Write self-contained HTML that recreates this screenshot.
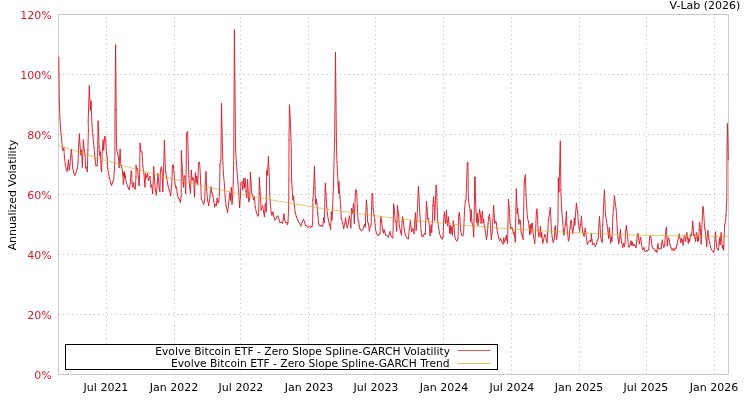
<!DOCTYPE html><html><head><meta charset="utf-8"><title>V-Lab</title><style>html,body{margin:0;padding:0;background:#fff}svg{display:block}text{font-family:"DejaVu Sans","Liberation Sans",sans-serif;font-size:11px}.lg text{font-size:10.72px}</style></head><body>
<svg width="750" height="400" viewBox="0 0 750 400">
<rect width="750" height="400" fill="#fff"/>
<rect x="58.5" y="14.5" width="670.0" height="360.0" fill="none" stroke="#cdcdcd" stroke-width="1"/>
<g stroke="#b8b8b8" stroke-width="1" stroke-dasharray="1 3.4" fill="none">
<path d="M58.5 374.5H728.5"/>
<path d="M58.5 314.5H728.5"/>
<path d="M58.5 254.5H728.5"/>
<path d="M58.5 194.5H728.5"/>
<path d="M58.5 134.5H728.5"/>
<path d="M58.5 74.5H728.5"/>
<path d="M58.5 14.5H728.5"/>
<path d="M106.5 374.5V14.5"/>
<path d="M174.5 374.5V14.5"/>
<path d="M240.5 374.5V14.5"/>
<path d="M308.5 374.5V14.5"/>
<path d="M375.5 374.5V14.5"/>
<path d="M443.5 374.5V14.5"/>
<path d="M511.5 374.5V14.5"/>
<path d="M579.5 374.5V14.5"/>
<path d="M646.5 374.5V14.5"/>
<path d="M714.5 374.5V14.5"/>
</g>
<g fill="#d71a28" text-anchor="end">
<text x="51.6" y="378.5">0%</text>
<text x="51.6" y="318.5">20%</text>
<text x="51.6" y="258.5">40%</text>
<text x="51.6" y="198.5">60%</text>
<text x="51.6" y="138.5">80%</text>
<text x="51.6" y="78.5">100%</text>
<text x="51.6" y="18.5">120%</text>
</g>
<g fill="#000" text-anchor="middle">
<text x="106" y="391">Jul 2021</text>
<text x="174" y="391">Jan 2022</text>
<text x="241" y="391">Jul 2022</text>
<text x="309" y="391">Jan 2023</text>
<text x="376" y="391">Jul 2023</text>
<text x="444" y="391">Jan 2024</text>
<text x="512" y="391">Jul 2024</text>
<text x="579" y="391">Jan 2025</text>
<text x="646" y="391">Jul 2025</text>
<text x="714" y="391">Jan 2026</text>
</g>
<text x="740.4" y="9.2" text-anchor="end" fill="#000">V-Lab (2026)</text>
<text transform="translate(16,195) rotate(-90)" text-anchor="middle" fill="#000" style="font-size:10.9px">Annualized Volatility</text>
<g fill="none" stroke="#d71a28" stroke-opacity="0.9" stroke-width="1" stroke-linecap="round">
<path d="M58.8 57.0L59.3 100.0"/><path d="M59.3 100.0L60.0 120.0"/><path d="M60.0 120.0L60.7 130.0"/><path d="M60.7 130.0L61.6 139.3"/><path d="M61.6 139.3L62.7 150.0"/><path d="M62.7 150.0L63.3 150.0"/><path d="M63.3 150.0L63.9 148.0"/><path d="M63.9 148.0L64.4 156.7"/><path d="M64.4 156.7L65.3 164.7"/><path d="M65.3 164.7L66.3 169.3"/><path d="M66.3 169.3L67.1 171.3"/><path d="M67.1 171.3L67.7 167.3"/><path d="M67.7 167.3L68.4 160.0"/><path d="M68.4 160.0L69.2 170.0"/><path d="M69.2 170.0L70.0 164.7"/><path d="M70.0 164.7L71.3 149.3"/><path d="M71.3 149.3L72.0 156.7"/><path d="M72.0 156.7L72.7 168.0"/><path d="M72.7 168.0L73.7 172.7"/><path d="M73.7 172.7L74.8 175.3"/><path d="M74.8 175.3L76.0 172.7"/><path d="M76.0 172.7L77.3 168.7"/><path d="M77.3 168.7L78.0 163.3"/><path d="M78.0 163.3L78.7 146.0"/><path d="M78.7 146.0L79.3 134.0"/><path d="M79.3 134.0L79.9 143.3"/><path d="M79.9 143.3L80.7 154.7"/><path d="M80.7 154.7L81.5 150.0"/><path d="M81.5 150.0L82.4 167.3"/><path d="M82.4 167.3L83.3 140.0"/><path d="M83.3 140.0L84.3 150.0"/><path d="M84.3 150.0L85.1 155.3"/><path d="M85.1 155.3L85.7 168.0"/><path d="M85.7 168.0L86.5 167.3"/><path d="M86.5 167.3L87.3 171.6"/><path d="M87.3 171.6L87.9 150.0"/><path d="M87.9 150.0L88.4 130.0"/><path d="M88.4 130.0L88.2 121.0"/><path d="M88.2 121.0L89.3 85.7"/><path d="M89.3 85.7L90.3 110.0"/><path d="M90.3 110.0L91.1 101.0"/><path d="M91.1 101.0L92.0 125.0"/><path d="M92.0 125.0L92.4 130.0"/><path d="M92.4 130.0L92.9 135.3"/><path d="M92.9 135.3L94.0 147.3"/><path d="M94.0 147.3L95.1 158.7"/><path d="M95.1 158.7L95.9 165.7"/><path d="M95.9 165.7L97.3 165.7"/><path d="M97.3 165.7L97.7 147.3"/><path d="M97.7 147.3L98.1 121.0"/><path d="M98.1 121.0L98.5 130.0"/><path d="M98.5 130.0L99.1 146.0"/><path d="M99.1 146.0L99.5 155.3"/><path d="M99.5 155.3L100.3 152.0"/><path d="M100.3 152.0L101.1 168.7"/><path d="M101.1 168.7L101.6 171.6"/><path d="M101.6 171.6L102.3 150.0"/><path d="M102.3 150.0L103.1 140.0"/><path d="M103.1 140.0L103.7 150.0"/><path d="M103.7 150.0L104.7 136.4"/><path d="M104.7 136.4L105.6 138.0"/><path d="M105.6 138.0L106.4 152.7"/><path d="M106.4 152.7L107.1 156.7"/><path d="M107.1 156.7L107.7 168.7"/><path d="M107.7 168.7L108.7 174.0"/><path d="M108.7 174.0L109.3 177.7"/><path d="M109.3 177.7L110.7 183.0"/><path d="M110.7 183.0L111.6 185.4"/><path d="M111.6 185.4L112.7 181.7"/><path d="M112.7 181.7L113.7 180.3"/><path d="M113.7 180.3L114.3 171.0"/><path d="M114.3 171.0L114.8 163.0"/><path d="M114.8 163.0L115.0 110.0"/><path d="M115.0 110.0L115.6 45.0"/><path d="M115.6 45.0L116.2 110.0"/><path d="M116.2 110.0L116.3 130.0"/><path d="M116.3 130.0L116.7 150.0"/><path d="M116.7 150.0L117.6 154.0"/><path d="M117.6 154.0L118.4 156.7"/><path d="M118.4 156.7L119.1 167.6"/><path d="M119.1 167.6L120.1 149.3"/><path d="M120.1 149.3L120.9 165.3"/><path d="M120.9 165.3L121.7 167.3"/><path d="M121.7 167.3L122.5 171.3"/><path d="M122.5 171.3L123.6 176.0"/><path d="M123.6 176.0L124.3 172.0"/><path d="M124.3 172.0L125.1 178.0"/><path d="M125.1 178.0L122.7 172.3"/><path d="M122.7 172.3L123.3 184.3"/><path d="M123.3 184.3L124.7 173.7"/><path d="M124.7 173.7L125.3 176.3"/><path d="M125.3 176.3L126.3 183.0"/><path d="M126.3 183.0L128.0 187.0"/><path d="M128.0 187.0L129.3 189.7"/><path d="M129.3 189.7L130.3 183.0"/><path d="M130.3 183.0L131.1 171.0"/><path d="M131.1 171.0L131.6 172.3"/><path d="M131.6 172.3L132.1 183.0"/><path d="M132.1 183.0L132.9 187.0"/><path d="M132.9 187.0L133.7 183.0"/><path d="M133.7 183.0L134.3 188.3"/><path d="M134.3 188.3L135.3 189.0"/><path d="M135.3 189.0L136.0 176.3"/><path d="M136.0 176.3L136.0 165.3"/><path d="M136.0 165.3L136.7 170.0"/><path d="M136.7 170.0L137.5 168.7"/><path d="M137.5 168.7L138.4 178.0"/><path d="M138.4 178.0L139.1 185.7"/><path d="M139.1 185.7L139.6 176.3"/><path d="M139.6 176.3L140.0 143.3"/><path d="M140.0 143.3L140.9 151.3"/><path d="M140.9 151.3L142.0 152.0"/><path d="M142.0 152.0L142.8 166.0"/><path d="M142.8 166.0L144.0 174.0"/><path d="M144.0 174.0L144.9 187.0"/><path d="M144.9 187.0L145.7 173.7"/><path d="M145.7 173.7L146.5 177.7"/><path d="M146.5 177.7L147.6 173.7"/><path d="M147.6 173.7L148.4 180.3"/><path d="M148.4 180.3L149.3 179.0"/><path d="M149.3 179.0L150.0 176.3"/><path d="M150.0 176.3L150.9 187.0"/><path d="M150.9 187.0L151.7 185.0"/><path d="M151.7 185.0L152.7 193.7"/><path d="M152.7 193.7L153.2 183.0"/><path d="M153.2 183.0L153.7 166.7"/><path d="M153.7 166.7L154.5 179.0"/><path d="M154.5 179.0L155.3 189.7"/><path d="M155.3 189.7L156.4 195.0"/><path d="M156.4 195.0L157.3 183.0"/><path d="M157.3 183.0L158.0 173.7"/><path d="M158.0 173.7L159.1 187.7"/><path d="M159.1 187.7L159.9 191.7"/><path d="M159.9 191.7L160.4 171.0"/><path d="M160.4 171.0L161.3 167.0"/><path d="M161.3 167.0L162.0 171.0"/><path d="M162.0 171.0L162.8 191.7"/><path d="M162.8 191.7L163.6 169.7"/><path d="M163.6 169.7L164.4 140.7"/><path d="M164.4 140.7L165.3 166.3"/><path d="M165.3 166.3L165.7 172.3"/><path d="M165.7 172.3L166.7 177.7"/><path d="M166.7 177.7L168.0 185.7"/><path d="M168.0 185.7L169.3 189.7"/><path d="M169.3 189.7L170.7 195.7"/><path d="M170.7 195.7L171.7 185.7"/><path d="M171.7 185.7L172.4 165.7"/><path d="M172.4 165.7L173.3 165.0"/><path d="M173.3 165.0L174.0 172.3"/><path d="M174.0 172.3L174.9 183.0"/><path d="M174.9 183.0L175.6 187.7"/><path d="M175.6 187.7L176.4 187.0"/><path d="M176.4 187.0L177.3 194.3"/><path d="M177.3 194.3L178.3 198.3"/><path d="M178.3 198.3L179.3 199.0"/><path d="M179.3 199.0L180.4 202.3"/><path d="M180.4 202.3L181.2 196.3"/><path d="M181.2 196.3L181.3 151.0"/><path d="M181.3 151.0L182.5 171.0"/><path d="M182.5 171.0L183.1 183.0"/><path d="M183.1 183.0L183.6 187.0"/><path d="M183.6 187.0L184.1 175.7"/><path d="M184.1 175.7L184.9 176.3"/><path d="M184.9 176.3L185.7 193.7"/><path d="M185.7 193.7L186.3 163.0"/><path d="M186.3 163.0L186.4 133.5"/><path d="M186.4 133.5L187.6 131.8"/><path d="M187.6 131.8L188.4 163.0"/><path d="M188.4 163.0L188.9 176.3"/><path d="M188.9 176.3L189.7 187.7"/><path d="M189.7 187.7L190.5 193.0"/><path d="M190.5 193.0L191.3 170.3"/><path d="M191.3 170.3L192.1 180.3"/><path d="M192.1 180.3L192.9 177.7"/><path d="M192.9 177.7L193.7 179.0"/><path d="M193.7 179.0L194.5 197.0"/><path d="M194.5 197.0L195.3 173.0"/><path d="M195.3 173.0L196.1 183.0"/><path d="M196.1 183.0L196.9 176.3"/><path d="M196.9 176.3L197.7 184.3"/><path d="M197.7 184.3L198.5 163.0"/><path d="M198.5 163.0L199.6 162.3"/><path d="M199.6 162.3L200.4 176.3"/><path d="M200.4 176.3L201.3 199.0"/><path d="M201.3 199.0L202.7 201.7"/><path d="M202.7 201.7L203.7 204.3"/><path d="M203.7 204.3L204.7 200.3"/><path d="M204.7 200.3L205.3 183.0"/><path d="M205.3 183.0L206.0 171.7"/><path d="M206.0 171.7L206.7 189.7"/><path d="M206.7 189.7L207.6 200.3"/><path d="M207.6 200.3L208.7 205.7"/><path d="M208.7 205.7L210.0 196.3"/><path d="M210.0 196.3L211.1 187.0"/><path d="M211.1 187.0L211.9 193.0"/><path d="M211.9 193.0L212.7 195.0"/><path d="M212.7 195.0L213.7 201.0"/><path d="M213.7 201.0L214.7 207.0"/><path d="M214.7 207.0L215.6 204.3"/><path d="M215.6 204.3L216.4 205.7"/><path d="M216.4 205.7L217.1 198.3"/><path d="M217.1 198.3L218.0 203.0"/><path d="M218.0 203.0L218.8 201.7"/><path d="M218.8 201.7L219.6 189.7"/><path d="M219.6 189.7L220.0 165.7"/><path d="M220.0 165.7L219.8 165.0"/><path d="M219.8 165.0L220.9 160.0"/><path d="M220.9 160.0L221.5 103.5"/><path d="M221.5 103.5L222.2 138.0"/><path d="M222.2 138.0L222.9 163.0"/><path d="M222.9 163.0L223.3 172.3"/><path d="M223.3 172.3L224.4 184.3"/><path d="M224.4 184.3L225.1 196.3"/><path d="M225.1 196.3L226.0 205.7"/><path d="M226.0 205.7L227.6 212.3"/><path d="M227.6 212.3L228.7 203.0"/><path d="M228.7 203.0L229.7 193.0"/><path d="M229.7 193.0L230.4 200.3"/><path d="M230.4 200.3L231.3 187.7"/><path d="M231.3 187.7L232.0 204.3"/><path d="M232.0 204.3L232.7 196.3"/><path d="M232.7 196.3L233.2 183.0"/><path d="M233.2 183.0L233.7 163.0"/><path d="M233.7 163.0L234.4 30.0"/><path d="M234.4 30.0L235.6 150.0"/><path d="M235.6 150.0L236.4 163.0"/><path d="M236.4 163.0L236.9 169.7"/><path d="M236.9 169.7L238.0 183.0"/><path d="M238.0 183.0L238.8 193.7"/><path d="M238.8 193.7L239.6 207.7"/><path d="M239.6 207.7L240.4 196.3"/><path d="M240.4 196.3L240.9 183.0"/><path d="M240.9 183.0L242.0 181.7"/><path d="M242.0 181.7L242.8 189.7"/><path d="M242.8 189.7L243.6 178.3"/><path d="M243.6 178.3L244.4 187.7"/><path d="M244.4 187.7L245.2 178.3"/><path d="M245.2 178.3L246.0 191.7"/><path d="M246.0 191.7L246.8 197.7"/><path d="M246.8 197.7L247.6 179.7"/><path d="M247.6 179.7L248.7 201.7"/><path d="M248.7 201.7L249.7 199.0"/><path d="M249.7 199.0L250.4 172.3"/><path d="M250.4 172.3L251.1 183.0"/><path d="M251.1 183.0L251.7 193.7"/><path d="M251.7 193.7L252.7 195.0"/><path d="M252.7 195.0L253.5 199.7"/><path d="M253.5 199.7L254.3 197.0"/><path d="M254.3 197.0L255.3 207.0"/><path d="M255.3 207.0L256.4 212.3"/><path d="M256.4 212.3L257.3 215.0"/><path d="M257.3 215.0L258.0 216.1"/><path d="M258.0 216.1L258.7 214.7"/><path d="M258.7 214.7L259.1 193.3"/><path d="M259.1 193.3L259.3 177.7"/><path d="M259.3 177.7L259.9 188.0"/><path d="M259.9 188.0L260.7 200.0"/><path d="M260.7 200.0L261.2 210.0"/><path d="M261.2 210.0L262.0 206.7"/><path d="M262.0 206.7L262.8 206.0"/><path d="M262.8 206.0L263.6 212.0"/><path d="M263.6 212.0L264.4 216.7"/><path d="M264.4 216.7L265.1 205.3"/><path d="M265.1 205.3L265.7 203.3"/><path d="M265.7 203.3L266.3 212.0"/><path d="M266.3 212.0L266.5 180.0"/><path d="M266.5 180.0L266.7 170.3"/><path d="M266.7 170.3L267.5 175.0"/><path d="M267.5 175.0L268.4 156.6"/><path d="M268.4 156.6L269.5 180.0"/><path d="M269.5 180.0L269.7 193.3"/><path d="M269.7 193.3L270.3 204.0"/><path d="M270.3 204.0L271.1 212.0"/><path d="M271.1 212.0L271.9 215.3"/><path d="M271.9 215.3L272.9 212.0"/><path d="M272.9 212.0L273.7 216.0"/><path d="M273.7 216.0L274.7 220.0"/><path d="M274.7 220.0L276.0 218.7"/><path d="M276.0 218.7L276.9 216.7"/><path d="M276.9 216.7L278.0 216.0"/><path d="M278.0 216.0L278.8 218.7"/><path d="M278.8 218.7L280.0 222.7"/><path d="M280.0 222.7L281.3 222.0"/><path d="M281.3 222.0L282.7 223.3"/><path d="M282.7 223.3L283.3 218.7"/><path d="M283.3 218.7L284.0 214.0"/><path d="M284.0 214.0L284.7 220.0"/><path d="M284.7 220.0L285.7 222.7"/><path d="M285.7 222.7L286.8 222.4"/><path d="M286.8 222.4L287.3 224.7"/><path d="M287.3 224.7L288.0 222.4"/><path d="M288.0 222.4L288.7 206.7"/><path d="M288.7 206.7L288.9 180.0"/><path d="M288.9 180.0L289.0 140.0"/><path d="M289.0 140.0L289.5 105.0"/><path d="M289.5 105.0L290.5 125.0"/><path d="M290.5 125.0L291.3 150.0"/><path d="M291.3 150.0L291.6 180.0"/><path d="M291.6 180.0L292.1 188.0"/><path d="M292.1 188.0L292.9 200.0"/><path d="M292.9 200.0L293.6 196.0"/><path d="M293.6 196.0L294.3 205.3"/><path d="M294.3 205.3L295.1 212.0"/><path d="M295.1 212.0L296.4 216.7"/><path d="M296.4 216.7L297.7 220.0"/><path d="M297.7 220.0L299.3 223.3"/><path d="M299.3 223.3L300.9 226.0"/><path d="M300.9 226.0L302.0 222.7"/><path d="M302.0 222.7L303.3 219.3"/><path d="M303.3 219.3L304.4 221.3"/><path d="M304.4 221.3L305.3 225.3"/><path d="M305.3 225.3L306.7 226.0"/><path d="M306.7 226.0L308.0 227.3"/><path d="M308.0 227.3L309.3 226.0"/><path d="M309.3 226.0L310.7 227.3"/><path d="M310.7 227.3L312.0 226.7"/><path d="M312.0 226.7L312.7 222.7"/><path d="M312.7 222.7L312.9 200.0"/><path d="M312.9 200.0L313.7 188.0"/><path d="M313.7 188.0L314.4 166.7"/><path d="M314.4 166.7L315.1 188.0"/><path d="M315.1 188.0L315.6 204.0"/><path d="M315.6 204.0L316.3 199.3"/><path d="M316.3 199.3L316.9 203.3"/><path d="M316.9 203.3L317.7 213.3"/><path d="M317.7 213.3L318.7 224.0"/><path d="M318.7 224.0L320.0 226.0"/><path d="M320.0 226.0L321.3 225.3"/><path d="M321.3 225.3L322.7 226.7"/><path d="M322.7 226.7L323.6 218.0"/><path d="M323.6 218.0L324.3 222.7"/><path d="M324.3 222.7L324.9 200.0"/><path d="M324.9 200.0L325.3 183.3"/><path d="M325.3 183.3L326.0 193.3"/><path d="M326.0 193.3L326.7 206.7"/><path d="M326.7 206.7L327.3 213.3"/><path d="M327.3 213.3L328.4 220.0"/><path d="M328.4 220.0L329.3 224.0"/><path d="M329.3 224.0L330.7 229.3"/><path d="M330.7 229.3L331.3 212.0"/><path d="M331.3 212.0L332.0 220.0"/><path d="M332.0 220.0L332.7 206.7"/><path d="M332.7 206.7L333.5 184.0"/><path d="M333.5 184.0L333.5 182.0"/><path d="M333.5 182.0L334.6 140.0"/><path d="M334.6 140.0L335.5 52.5"/><path d="M335.5 52.5L336.4 140.0"/><path d="M336.4 140.0L336.7 154.0"/><path d="M336.7 154.0L337.0 162.0"/><path d="M337.0 162.0L338.1 185.3"/><path d="M338.1 185.3L338.7 193.3"/><path d="M338.7 193.3L338.9 181.7"/><path d="M338.9 181.7L339.3 190.7"/><path d="M339.3 190.7L340.0 197.3"/><path d="M340.0 197.3L340.7 206.7"/><path d="M340.7 206.7L341.3 218.7"/><path d="M341.3 218.7L342.7 222.7"/><path d="M342.7 222.7L343.7 228.7"/><path d="M343.7 228.7L344.7 224.0"/><path d="M344.7 224.0L345.6 218.0"/><path d="M345.6 218.0L346.4 224.0"/><path d="M346.4 224.0L347.3 228.0"/><path d="M347.3 228.0L348.4 222.7"/><path d="M348.4 222.7L349.3 216.0"/><path d="M349.3 216.0L350.0 220.0"/><path d="M350.0 220.0L350.9 228.0"/><path d="M350.9 228.0L351.6 208.7"/><path d="M351.6 208.7L352.4 213.3"/><path d="M352.4 213.3L353.5 204.0"/><path d="M353.5 204.0L354.3 223.3"/><path d="M354.3 223.3L355.1 200.0"/><path d="M355.1 200.0L355.6 190.0"/><path d="M355.6 190.0L356.7 190.7"/><path d="M356.7 190.7L357.3 206.7"/><path d="M357.3 206.7L358.0 220.0"/><path d="M358.0 220.0L358.7 221.0"/><path d="M358.7 221.0L359.1 225.7"/><path d="M359.1 225.7L360.0 229.0"/><path d="M360.0 229.0L361.3 231.0"/><path d="M361.3 231.0L362.7 229.7"/><path d="M362.7 229.7L363.6 227.0"/><path d="M363.6 227.0L364.7 224.3"/><path d="M364.7 224.3L365.3 227.0"/><path d="M365.3 227.0L365.7 215.0"/><path d="M365.7 215.0L366.4 200.1"/><path d="M366.4 200.1L367.1 208.3"/><path d="M367.1 208.3L367.6 221.7"/><path d="M367.6 221.7L368.4 223.7"/><path d="M368.4 223.7L369.3 231.0"/><path d="M369.3 231.0L370.3 226.3"/><path d="M370.3 226.3L371.1 225.0"/><path d="M371.1 225.0L371.6 208.3"/><path d="M371.6 208.3L372.0 194.0"/><path d="M372.0 194.0L372.7 194.0"/><path d="M372.7 194.0L373.1 208.3"/><path d="M373.1 208.3L374.0 215.0"/><path d="M374.0 215.0L374.8 221.7"/><path d="M374.8 221.7L375.6 229.7"/><path d="M375.6 229.7L376.7 233.7"/><path d="M376.7 233.7L378.0 235.7"/><path d="M378.0 235.7L379.1 234.3"/><path d="M379.1 234.3L380.0 233.7"/><path d="M380.0 233.7L380.4 221.7"/><path d="M380.4 221.7L380.9 217.0"/><path d="M380.9 217.0L381.7 221.7"/><path d="M381.7 221.7L382.5 229.7"/><path d="M382.5 229.7L383.3 233.0"/><path d="M383.3 233.0L384.1 229.7"/><path d="M384.1 229.7L384.9 233.0"/><path d="M384.9 233.0L385.7 235.0"/><path d="M385.7 235.0L387.1 235.7"/><path d="M387.1 235.7L388.4 237.0"/><path d="M388.4 237.0L389.3 233.7"/><path d="M389.3 233.7L390.0 231.7"/><path d="M390.0 231.7L390.8 235.7"/><path d="M390.8 235.7L392.0 237.4"/><path d="M392.0 237.4L392.9 237.9"/><path d="M392.9 237.9L393.3 221.7"/><path d="M393.3 221.7L393.6 204.1"/><path d="M393.6 204.1L394.3 208.3"/><path d="M394.3 208.3L395.1 220.3"/><path d="M395.1 220.3L395.9 221.7"/><path d="M395.9 221.7L396.7 231.0"/><path d="M396.7 231.0L397.1 221.7"/><path d="M397.1 221.7L397.5 205.7"/><path d="M397.5 205.7L398.0 211.0"/><path d="M398.0 211.0L398.7 215.0"/><path d="M398.7 215.0L399.3 225.7"/><path d="M399.3 225.7L400.4 231.0"/><path d="M400.4 231.0L401.5 235.0"/><path d="M401.5 235.0L402.1 221.7"/><path d="M402.1 221.7L402.7 217.0"/><path d="M402.7 217.0L403.3 221.7"/><path d="M403.3 221.7L404.3 229.7"/><path d="M404.3 229.7L405.3 235.0"/><path d="M405.3 235.0L406.7 237.9"/><path d="M406.7 237.9L408.4 238.7"/><path d="M408.4 238.7L409.3 229.7"/><path d="M409.3 229.7L410.4 221.0"/><path d="M410.4 221.0L411.1 227.0"/><path d="M411.1 227.0L411.7 231.7"/><path d="M411.7 231.7L412.7 229.0"/><path d="M412.7 229.0L413.5 229.7"/><path d="M413.5 229.7L414.0 233.7"/><path d="M414.0 233.7L414.7 221.7"/><path d="M414.7 221.7L415.5 213.0"/><path d="M415.5 213.0L416.1 230.3"/><path d="M416.1 230.3L416.9 221.7"/><path d="M416.9 221.7L417.7 203.0"/><path d="M417.7 203.0L418.4 186.7"/><path d="M418.4 186.7L419.1 199.0"/><path d="M419.1 199.0L419.7 211.0"/><path d="M419.7 211.0L420.4 221.7"/><path d="M420.4 221.7L421.1 231.0"/><path d="M421.1 231.0L422.0 236.3"/><path d="M422.0 236.3L423.3 236.1"/><path d="M423.3 236.1L424.3 233.7"/><path d="M424.3 233.7L425.3 234.3"/><path d="M425.3 234.3L426.0 215.0"/><path d="M426.0 215.0L426.5 201.4"/><path d="M426.5 201.4L427.1 208.3"/><path d="M427.1 208.3L427.7 219.0"/><path d="M427.7 219.0L428.7 218.3"/><path d="M428.7 218.3L429.5 229.7"/><path d="M429.5 229.7L430.1 235.7"/><path d="M430.1 235.7L431.1 225.0"/><path d="M431.1 225.0L431.7 232.3"/><path d="M431.7 232.3L432.4 221.7"/><path d="M432.4 221.7L432.9 205.7"/><path d="M432.9 205.7L433.6 197.0"/><path d="M433.6 197.0L434.1 205.7"/><path d="M434.1 205.7L434.7 220.3"/><path d="M434.7 220.3L435.3 203.0"/><path d="M435.3 203.0L436.1 185.3"/><path d="M436.1 185.3L436.6 190.0"/><path d="M436.6 190.0L437.2 208.3"/><path d="M437.2 208.3L437.7 220.3"/><path d="M437.7 220.3L438.7 228.3"/><path d="M438.7 228.3L439.6 233.7"/><path d="M439.6 233.7L440.9 237.7"/><path d="M440.9 237.7L442.3 239.0"/><path d="M442.3 239.0L443.1 236.3"/><path d="M443.1 236.3L443.6 221.7"/><path d="M443.6 221.7L444.4 212.3"/><path d="M444.4 212.3L445.2 220.3"/><path d="M445.2 220.3L445.7 223.0"/><path d="M445.7 223.0L446.4 210.3"/><path d="M446.4 210.3L447.1 221.7"/><path d="M447.1 221.7L447.6 225.7"/><path d="M447.6 225.7L448.3 217.0"/><path d="M448.3 217.0L449.1 223.7"/><path d="M449.1 223.7L449.6 233.0"/><path d="M449.6 233.0L450.3 225.7"/><path d="M450.3 225.7L450.9 233.7"/><path d="M450.9 233.7L451.7 227.0"/><path d="M451.7 227.0L452.4 235.0"/><path d="M452.4 235.0L453.2 221.0"/><path d="M453.2 221.0L454.0 225.7"/><path d="M454.0 225.7L454.7 236.3"/><path d="M454.7 236.3L455.6 239.7"/><path d="M455.6 239.7L456.9 241.0"/><path d="M456.9 241.0L458.0 239.0"/><path d="M458.0 239.0L458.7 215.3"/><path d="M458.7 215.3L459.3 212.7"/><path d="M459.3 212.7L460.0 218.7"/><path d="M460.0 218.7L460.7 230.7"/><path d="M460.7 230.7L461.7 235.3"/><path d="M461.7 235.3L462.7 236.0"/><path d="M462.7 236.0L463.6 233.3"/><path d="M463.6 233.3L464.1 220.0"/><path d="M464.1 220.0L464.7 208.0"/><path d="M464.7 208.0L465.3 201.3"/><path d="M465.3 201.3L466.0 200.0"/><path d="M466.0 200.0L467.3 162.7"/><path d="M467.3 162.7L467.9 162.7"/><path d="M467.9 162.7L468.4 200.0"/><path d="M468.4 200.0L469.3 205.3"/><path d="M469.3 205.3L470.0 210.0"/><path d="M470.0 210.0L470.7 221.3"/><path d="M470.7 221.3L471.3 210.0"/><path d="M471.3 210.0L472.0 222.7"/><path d="M472.0 222.7L472.9 225.3"/><path d="M472.9 225.3L473.7 236.7"/><path d="M473.7 236.7L474.1 220.0"/><path d="M474.1 220.0L474.5 200.0"/><path d="M474.5 200.0L474.6 177.3"/><path d="M474.6 177.3L475.2 177.3"/><path d="M475.2 177.3L475.6 200.0"/><path d="M475.6 200.0L476.0 210.7"/><path d="M476.0 210.7L476.7 222.7"/><path d="M476.7 222.7L477.3 213.3"/><path d="M477.3 213.3L478.0 225.3"/><path d="M478.0 225.3L478.7 220.0"/><path d="M478.7 220.0L479.6 209.3"/><path d="M479.6 209.3L480.4 214.7"/><path d="M480.4 214.7L481.1 223.3"/><path d="M481.1 223.3L481.7 217.3"/><path d="M481.7 217.3L482.4 211.3"/><path d="M482.4 211.3L483.1 222.7"/><path d="M483.1 222.7L483.7 219.3"/><path d="M483.7 219.3L484.4 226.7"/><path d="M484.4 226.7L485.3 230.7"/><path d="M485.3 230.7L486.4 239.3"/><path d="M486.4 239.3L487.3 234.7"/><path d="M487.3 234.7L488.0 224.0"/><path d="M488.0 224.0L488.7 217.3"/><path d="M488.7 217.3L489.5 214.4"/><path d="M489.5 214.4L490.1 220.0"/><path d="M490.1 220.0L490.8 230.7"/><path d="M490.8 230.7L491.3 239.3"/><path d="M491.3 239.3L492.1 233.3"/><path d="M492.1 233.3L492.9 220.0"/><path d="M492.9 220.0L493.6 205.6"/><path d="M493.6 205.6L494.3 216.0"/><path d="M494.3 216.0L494.8 223.3"/><path d="M494.8 223.3L495.6 221.3"/><path d="M495.6 221.3L496.4 222.7"/><path d="M496.4 222.7L496.9 228.7"/><path d="M496.9 228.7L497.7 233.3"/><path d="M497.7 233.3L498.7 238.0"/><path d="M498.7 238.0L499.6 240.7"/><path d="M499.6 240.7L500.7 238.7"/><path d="M500.7 238.7L501.7 241.3"/><path d="M501.7 241.3L503.1 244.0"/><path d="M503.1 244.0L503.7 238.0"/><path d="M503.7 238.0L504.7 242.0"/><path d="M504.7 242.0L505.6 238.7"/><path d="M505.6 238.7L506.3 235.3"/><path d="M506.3 235.3L506.9 240.0"/><path d="M506.9 240.0L507.6 243.3"/><path d="M507.6 243.3L507.9 226.7"/><path d="M507.9 226.7L508.4 199.6"/><path d="M508.4 199.6L509.5 210.7"/><path d="M509.5 210.7L510.0 222.7"/><path d="M510.0 222.7L510.8 228.7"/><path d="M510.8 228.7L511.9 227.3"/><path d="M511.9 227.3L512.7 230.0"/><path d="M512.7 230.0L513.5 234.0"/><path d="M513.5 234.0L514.0 232.0"/><path d="M514.0 232.0L514.8 237.3"/><path d="M514.8 237.3L515.3 242.0"/><path d="M515.3 242.0L515.7 220.0"/><path d="M515.7 220.0L516.3 189.0"/><path d="M516.3 189.0L517.2 213.3"/><path d="M517.2 213.3L517.7 208.7"/><path d="M517.7 208.7L518.3 216.0"/><path d="M518.3 216.0L518.9 224.0"/><path d="M518.9 224.0L519.6 220.0"/><path d="M519.6 220.0L520.4 220.7"/><path d="M520.4 220.7L521.1 232.0"/><path d="M521.1 232.0L522.0 235.3"/><path d="M522.0 235.3L523.1 239.3"/><path d="M523.1 239.3L523.5 220.0"/><path d="M523.5 220.0L524.2 182.0"/><path d="M524.2 182.0L524.6 179.3"/><path d="M524.6 179.3L525.3 175.0"/><path d="M525.3 175.0L526.0 195.0"/><path d="M526.0 195.0L526.8 208.0"/><path d="M526.8 208.0L527.3 216.7"/><path d="M527.3 216.7L528.3 221.3"/><path d="M528.3 221.3L529.1 226.7"/><path d="M529.1 226.7L529.7 234.7"/><path d="M529.7 234.7L530.3 224.7"/><path d="M530.3 224.7L530.9 233.3"/><path d="M530.9 233.3L531.6 224.0"/><path d="M531.6 224.0L532.3 223.3"/><path d="M532.3 223.3L532.9 230.7"/><path d="M532.9 230.7L533.7 237.3"/><path d="M533.7 237.3L534.8 243.3"/><path d="M534.8 243.3L535.6 230.7"/><path d="M535.6 230.7L536.3 213.3"/><path d="M536.3 213.3L536.9 209.1"/><path d="M536.9 209.1L537.6 217.3"/><path d="M537.6 217.3L538.0 229.3"/><path d="M538.0 229.3L538.8 236.7"/><path d="M538.8 236.7L539.6 234.7"/><path d="M539.6 234.7L540.4 226.7"/><path d="M540.4 226.7L541.1 237.3"/><path d="M541.1 237.3L541.7 232.7"/><path d="M541.7 232.7L542.7 243.3"/><path d="M542.7 243.3L543.6 240.0"/><path d="M543.6 240.0L544.7 234.7"/><path d="M544.7 234.7L545.5 235.3"/><path d="M545.5 235.3L546.3 240.0"/><path d="M546.3 240.0L547.1 242.7"/><path d="M547.1 242.7L547.7 233.3"/><path d="M547.7 233.3L548.4 220.0"/><path d="M548.4 220.0L549.5 213.3"/><path d="M549.5 213.3L550.3 207.7"/><path d="M550.3 207.7L550.9 220.0"/><path d="M550.9 220.0L551.6 232.0"/><path d="M551.6 232.0L552.4 238.7"/><path d="M552.4 238.7L553.3 242.4"/><path d="M553.3 242.4L554.3 239.3"/><path d="M554.3 239.3L554.8 228.7"/><path d="M554.8 228.7L555.3 226.0"/><path d="M555.3 226.0L556.0 234.7"/><path d="M556.0 234.7L556.7 239.3"/><path d="M556.7 239.3L557.5 232.0"/><path d="M557.5 232.0L558.0 220.0"/><path d="M558.0 220.0L558.3 178.0"/><path d="M558.3 178.0L559.0 192.0"/><path d="M559.0 192.0L559.6 170.0"/><path d="M559.6 170.0L560.3 141.3"/><path d="M560.3 141.3L560.9 190.0"/><path d="M560.9 190.0L561.7 210.3"/><path d="M561.7 210.3L562.7 221.0"/><path d="M562.7 221.0L563.3 230.3"/><path d="M563.3 230.3L564.0 235.0"/><path d="M564.0 235.0L564.7 229.0"/><path d="M564.7 229.0L565.3 225.0"/><path d="M565.3 225.0L566.0 218.3"/><path d="M566.0 218.3L566.4 211.7"/><path d="M566.4 211.7L566.9 225.0"/><path d="M566.9 225.0L567.6 233.0"/><path d="M567.6 233.0L568.4 241.0"/><path d="M568.4 241.0L569.2 238.3"/><path d="M569.2 238.3L570.0 227.7"/><path d="M570.0 227.7L570.7 221.7"/><path d="M570.7 221.7L571.3 220.3"/><path d="M571.3 220.3L572.0 229.0"/><path d="M572.0 229.0L572.7 233.7"/><path d="M572.7 233.7L573.5 228.3"/><path d="M573.5 228.3L574.3 218.3"/><path d="M574.3 218.3L574.9 225.0"/><path d="M574.9 225.0L575.6 213.0"/><path d="M575.6 213.0L576.4 203.3"/><path d="M576.4 203.3L576.9 207.7"/><path d="M576.9 207.7L577.7 213.0"/><path d="M577.7 213.0L578.4 222.3"/><path d="M578.4 222.3L579.1 227.7"/><path d="M579.1 227.7L579.7 231.0"/><path d="M579.7 231.0L580.4 225.0"/><path d="M580.4 225.0L581.1 221.0"/><path d="M581.1 221.0L581.5 216.3"/><path d="M581.5 216.3L582.0 225.0"/><path d="M582.0 225.0L582.7 231.7"/><path d="M582.7 231.7L583.3 233.7"/><path d="M583.3 233.7L584.1 236.3"/><path d="M584.1 236.3L584.7 231.7"/><path d="M584.7 231.7L585.2 228.3"/><path d="M585.2 228.3L585.9 233.0"/><path d="M585.9 233.0L586.5 238.3"/><path d="M586.5 238.3L587.3 244.3"/><path d="M587.3 244.3L588.4 242.3"/><path d="M588.4 242.3L589.3 241.0"/><path d="M589.3 241.0L590.3 240.3"/><path d="M590.3 240.3L590.9 241.7"/><path d="M590.9 241.7L591.3 233.7"/><path d="M591.3 233.7L591.9 239.7"/><path d="M591.9 239.7L592.7 244.3"/><path d="M592.7 244.3L594.0 243.7"/><path d="M594.0 243.7L595.3 246.3"/><path d="M595.3 246.3L596.4 243.7"/><path d="M596.4 243.7L597.3 240.3"/><path d="M597.3 240.3L598.3 238.3"/><path d="M598.3 238.3L598.9 225.0"/><path d="M598.9 225.0L599.5 216.7"/><path d="M599.5 216.7L600.1 226.3"/><path d="M600.1 226.3L600.7 237.0"/><path d="M600.7 237.0L601.5 240.3"/><path d="M601.5 240.3L602.3 242.3"/><path d="M602.3 242.3L602.8 225.0"/><path d="M602.8 225.0L603.3 211.7"/><path d="M603.3 211.7L604.4 190.0"/><path d="M604.4 190.0L605.5 215.7"/><path d="M605.5 215.7L606.3 219.0"/><path d="M606.3 219.0L607.1 225.0"/><path d="M607.1 225.0L608.0 231.7"/><path d="M608.0 231.7L608.7 238.3"/><path d="M608.7 238.3L609.3 227.7"/><path d="M609.3 227.7L610.0 235.7"/><path d="M610.0 235.7L610.7 243.0"/><path d="M610.7 243.0L611.3 237.0"/><path d="M611.3 237.0L612.0 241.0"/><path d="M612.0 241.0L612.4 229.0"/><path d="M612.4 229.0L612.9 215.7"/><path d="M612.9 215.7L613.6 207.7"/><path d="M613.6 207.7L614.4 196.0"/><path d="M614.4 196.0L615.3 204.0"/><path d="M615.3 204.0L616.1 209.0"/><path d="M616.1 209.0L616.7 218.3"/><path d="M616.7 218.3L617.3 229.0"/><path d="M617.3 229.0L618.0 238.3"/><path d="M618.0 238.3L618.7 243.7"/><path d="M618.7 243.7L619.3 241.0"/><path d="M619.3 241.0L619.9 234.3"/><path d="M619.9 234.3L620.4 229.7"/><path d="M620.4 229.7L620.9 237.0"/><path d="M620.9 237.0L621.7 242.3"/><path d="M621.7 242.3L622.7 247.4"/><path d="M622.7 247.4L623.6 243.7"/><path d="M623.6 243.7L624.4 246.3"/><path d="M624.4 246.3L625.1 243.0"/><path d="M625.1 243.0L625.6 231.7"/><path d="M625.6 231.7L626.3 225.7"/><path d="M626.3 225.7L626.9 230.3"/><path d="M626.9 230.3L627.6 235.7"/><path d="M627.6 235.7L628.4 246.3"/><path d="M628.4 246.3L629.3 247.0"/><path d="M629.3 247.0L630.3 244.3"/><path d="M630.3 244.3L631.1 241.0"/><path d="M631.1 241.0L631.7 245.0"/><path d="M631.7 245.0L632.4 242.3"/><path d="M632.4 242.3L633.1 245.7"/><path d="M633.1 245.7L634.0 244.3"/><path d="M634.0 244.3L635.1 245.7"/><path d="M635.1 245.7L636.0 247.7"/><path d="M636.0 247.7L636.7 241.0"/><path d="M636.7 241.0L637.3 235.0"/><path d="M637.3 235.0L638.0 233.7"/><path d="M638.0 233.7L638.7 238.3"/><path d="M638.7 238.3L639.3 243.7"/><path d="M639.3 243.7L640.1 239.7"/><path d="M640.1 239.7L640.7 237.7"/><path d="M640.7 237.7L641.5 243.7"/><path d="M641.5 243.7L642.3 249.0"/><path d="M642.3 249.0L643.1 249.7"/><path d="M643.1 249.7L644.0 247.7"/><path d="M644.0 247.7L644.7 251.0"/><path d="M644.7 251.0L645.7 251.7"/><path d="M645.7 251.7L646.7 250.3"/><path d="M646.7 250.3L647.6 251.0"/><path d="M647.6 251.0L648.7 249.7"/><path d="M648.7 249.7L649.2 243.7"/><path d="M649.2 243.7L649.7 237.0"/><path d="M649.7 237.0L650.7 236.3"/><path d="M650.7 236.3L651.3 239.7"/><path d="M651.3 239.7L652.1 246.3"/><path d="M652.1 246.3L652.9 248.3"/><path d="M652.9 248.3L654.0 249.0"/><path d="M654.0 249.0L655.1 251.0"/><path d="M655.1 251.0L656.0 250.3"/><path d="M656.0 250.3L656.9 252.3"/><path d="M656.9 252.3L657.5 246.3"/><path d="M657.5 246.3L658.0 243.7"/><path d="M658.0 243.7L658.3 248.0"/><path d="M658.3 248.0L659.3 249.3"/><path d="M659.3 249.3L660.4 248.0"/><path d="M660.4 248.0L661.2 248.7"/><path d="M661.2 248.7L661.7 243.3"/><path d="M661.7 243.3L662.4 240.0"/><path d="M662.4 240.0L663.1 245.3"/><path d="M663.1 245.3L663.9 247.3"/><path d="M663.9 247.3L664.7 244.7"/><path d="M664.7 244.7L665.3 236.7"/><path d="M665.3 236.7L666.0 230.0"/><path d="M666.0 230.0L666.4 227.3"/><path d="M666.4 227.3L666.9 236.7"/><path d="M666.9 236.7L667.3 246.0"/><path d="M667.3 246.0L668.0 238.7"/><path d="M668.0 238.7L668.7 238.0"/><path d="M668.7 238.0L669.3 240.7"/><path d="M669.3 240.7L670.0 244.7"/><path d="M670.0 244.7L671.1 248.0"/><path d="M671.1 248.0L672.0 250.0"/><path d="M672.0 250.0L672.9 248.7"/><path d="M672.9 248.7L674.0 250.7"/><path d="M674.0 250.7L675.1 248.0"/><path d="M675.1 248.0L676.0 248.7"/><path d="M676.0 248.7L676.9 245.3"/><path d="M676.9 245.3L677.7 241.3"/><path d="M677.7 241.3L678.5 237.3"/><path d="M678.5 237.3L679.3 234.0"/><path d="M679.3 234.0L680.1 238.7"/><path d="M680.1 238.7L680.9 242.7"/><path d="M680.9 242.7L681.7 238.7"/><path d="M681.7 238.7L682.4 240.0"/><path d="M682.4 240.0L683.1 245.3"/><path d="M683.1 245.3L683.6 240.7"/><path d="M683.6 240.7L684.4 235.3"/><path d="M684.4 235.3L685.1 238.0"/><path d="M685.1 238.0L685.7 241.3"/><path d="M685.7 241.3L686.3 235.3"/><path d="M686.3 235.3L686.9 232.7"/><path d="M686.9 232.7L687.6 238.0"/><path d="M687.6 238.0L688.3 243.3"/><path d="M688.3 243.3L688.9 238.7"/><path d="M688.9 238.7L689.6 241.3"/><path d="M689.6 241.3L690.3 236.7"/><path d="M690.3 236.7L691.1 234.0"/><path d="M691.1 234.0L691.7 235.3"/><path d="M691.7 235.3L692.3 227.3"/><path d="M692.3 227.3L692.7 221.3"/><path d="M692.7 221.3L693.2 227.3"/><path d="M693.2 227.3L693.7 235.3"/><path d="M693.7 235.3L694.4 234.7"/><path d="M694.4 234.7L695.1 238.7"/><path d="M695.1 238.7L695.6 241.3"/><path d="M695.6 241.3L696.3 232.7"/><path d="M696.3 232.7L696.9 234.7"/><path d="M696.9 234.7L697.5 241.3"/><path d="M697.5 241.3L698.0 236.7"/><path d="M698.0 236.7L698.5 240.7"/><path d="M698.5 240.7L699.1 230.0"/><path d="M699.1 230.0L699.6 222.7"/><path d="M699.6 222.7L700.1 226.0"/><path d="M700.1 226.0L700.7 234.0"/><path d="M700.7 234.0L701.2 244.0"/><path d="M701.2 244.0L701.7 230.0"/><path d="M701.7 230.0L702.3 218.0"/><path d="M702.3 218.0L702.8 206.6"/><path d="M702.8 206.6L703.4 208.0"/><path d="M703.4 208.0L704.4 224.7"/><path d="M704.4 224.7L704.9 228.7"/><path d="M704.9 228.7L705.5 232.7"/><path d="M705.5 232.7L706.0 238.7"/><path d="M706.0 238.7L706.7 246.7"/><path d="M706.7 246.7L707.3 236.7"/><path d="M707.3 236.7L707.9 230.7"/><path d="M707.9 230.7L708.4 235.3"/><path d="M708.4 235.3L708.9 239.3"/><path d="M708.9 239.3L709.7 242.7"/><path d="M709.7 242.7L710.4 246.7"/><path d="M710.4 246.7L711.3 249.3"/><path d="M711.3 249.3L712.7 251.1"/><path d="M712.7 251.1L713.7 252.4"/><path d="M713.7 252.4L714.5 248.7"/><path d="M714.5 248.7L715.1 236.7"/><path d="M715.1 236.7L715.6 232.0"/><path d="M715.6 232.0L716.1 240.7"/><path d="M716.1 240.7L716.9 248.0"/><path d="M716.9 248.0L717.7 249.3"/><path d="M717.7 249.3L718.5 250.0"/><path d="M718.5 250.0L719.1 242.0"/><path d="M719.1 242.0L719.6 238.0"/><path d="M719.6 238.0L720.1 244.7"/><path d="M720.1 244.7L720.7 236.7"/><path d="M720.7 236.7L721.2 232.7"/><path d="M721.2 232.7L721.7 240.7"/><path d="M721.7 240.7L722.4 248.0"/><path d="M722.4 248.0L723.1 245.3"/><path d="M723.1 245.3L723.7 250.0"/><path d="M723.7 250.0L724.1 236.7"/><path d="M724.1 236.7L724.7 224.7"/><path d="M724.7 224.7L725.5 222.0"/><path d="M725.5 222.0L726.0 215.3"/><path d="M726.0 215.3L726.8 200.0"/><path d="M726.8 200.0L727.0 150.0"/><path d="M727.0 150.0L727.4 123.8"/><path d="M727.4 123.8L727.9 140.0"/><path d="M727.9 140.0L728.3 160.0"/>
</g>
<polyline fill="none" stroke="#ceab30" stroke-opacity="0.75" stroke-width="0.9" stroke-linejoin="round" points="58.7,145.4 70.1,149.2 81.4,152.9 92.8,156.5 104.1,160.0 115.5,163.4 126.8,166.7 138.2,169.8 149.5,172.9 160.9,175.8 172.2,178.7 183.6,181.5 194.9,184.1 206.3,186.7 217.6,189.2 229.0,191.6 240.3,193.9 251.7,196.2 263.0,198.3 274.4,200.4 285.7,202.4 297.1,204.3 308.4,206.2 319.8,208.0 331.1,209.7 342.5,211.3 353.8,212.9 365.2,214.4 376.5,215.9 387.9,217.3 399.2,218.6 410.6,219.9 421.9,221.1 433.3,222.3 444.6,223.4 456.0,224.5 467.3,225.5 478.7,226.4 490.0,227.3 501.4,228.2 512.7,229.0 524.1,229.8 535.4,230.5 546.8,231.2 558.1,231.8 569.5,232.4 580.8,232.9 592.2,233.4 603.5,233.9 614.9,234.3 626.2,234.7 637.6,235.0 648.9,235.3 660.3,235.5 671.6,235.7 683.0,235.9 694.3,236.0 705.7,236.1 717.0,236.2 728.4,236.2"/>
<rect x="65.5" y="344.5" width="432" height="25" fill="#fff" stroke="#000" stroke-width="1"/>
<g class="lg" fill="#000" text-anchor="end"><text x="450" y="354.5" style="font-size:10.69px">Evolve Bitcoin ETF - Zero Slope Spline-GARCH Volatility</text><text x="449.6" y="367">Evolve Bitcoin ETF - Zero Slope Spline-GARCH Trend</text></g>
<path d="M457.5 350.5H490.5" stroke="#d71a28" stroke-opacity="0.75" stroke-width="1"/><path d="M457.5 363.5H490.5" stroke="#ceab30" stroke-opacity="0.75" stroke-width="1"/>
</svg></body></html>
